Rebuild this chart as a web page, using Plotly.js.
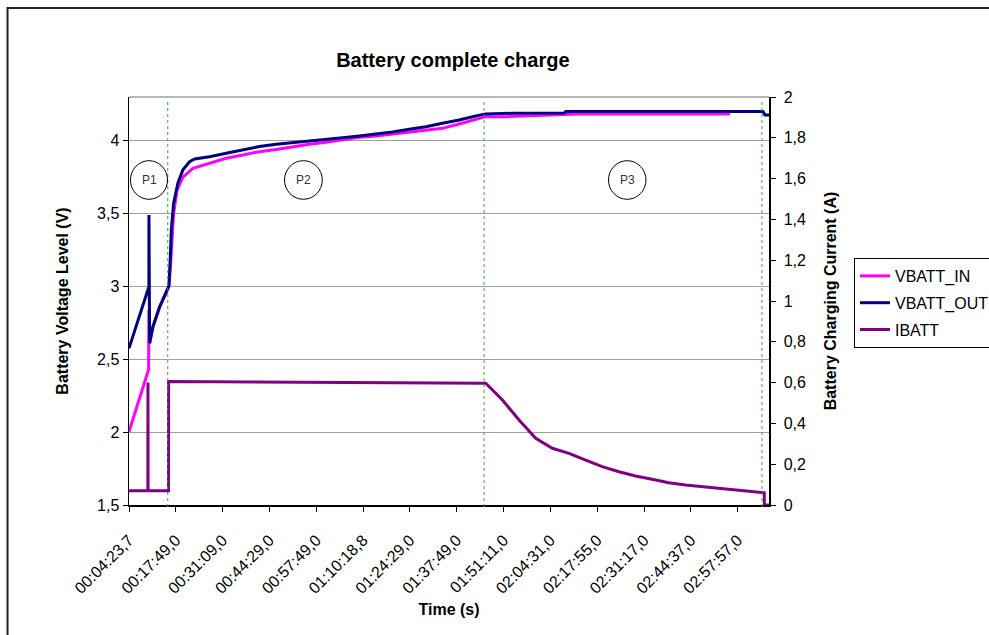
<!DOCTYPE html>
<html>
<head>
<meta charset="utf-8">
<script src="https://cdn.plot.ly/plotly-3.0.1.min.js"></script>
<style>html,body{margin:0;padding:0;background:#fff;}#chart{width:989px;height:635px;}</style>
</head>
<body>
<div id="chart"></div>
<script>
// Elapsed time (s) from first sample; tick labels every ~800 s (category axis in source)
const tickLabels = ["00:04:23,7","00:17:49,0","00:31:09,0","00:44:29,0","00:57:49,0","01:10:18,8","01:24:29,0","01:37:49,0","01:51:11,0","02:04:31,0","02:17:55,0","02:31:17,0","02:44:37,0","02:57:57,0"];
const tickPos = [0,800,1600,2400,3200,4000,4800,5600,6400,7200,8000,8800,9600,10400];

const tIn = [0,324,335,341,352,409,524,665,682,706,740,762,820,921,1092,1377,1661,1945,2229,2514,2797,3082,3367,3650,3935,4220,4503,4788,5073,5356,5641,5926,6096,6438,7120,7689,10268];
const vIn = [2.003,2.427,2.43,2.84,2.61,2.724,2.86,2.987,3.003,3.12,3.35,3.50,3.66,3.75,3.81,3.845,3.88,3.902,3.925,3.94,3.96,3.976,3.99,4.005,4.024,4.033,4.046,4.063,4.074,4.085,4.115,4.147,4.165,4.165,4.177,4.184,4.184];

const tOut = [0,324,340,341,352,409,524,665,682,706,723,762,836,921,1035,1121,1377,1661,1945,2229,2514,2797,3082,3367,3650,3935,4220,4503,4788,5073,5356,5641,5926,6096,6550,7440,7462,10830,10866,10935];
const vOut = [2.575,2.964,2.998,3.49,2.61,2.724,2.86,2.987,3.003,3.2,3.39,3.57,3.71,3.80,3.856,3.875,3.89,3.914,3.937,3.96,3.976,3.987,3.994,4.005,4.02,4.033,4.046,4.06,4.079,4.096,4.12,4.142,4.17,4.184,4.188,4.19,4.2,4.2,4.177,4.177];

const tI = [0,322,324,326,675,676,6096,6380,6664,6949,7233,7518,7803,8086,8371,8655,8938,9223,9508,9791,10076,10360,10780,10854,10855,10935];
const iBatt = [0.07,0.07,0.60,0.07,0.07,0.605,0.597,0.515,0.417,0.327,0.278,0.253,0.22,0.188,0.163,0.142,0.126,0.109,0.098,0.09,0.082,0.0735,0.06,0.06,0,0];

const phaseLines = [662,6067,10815];
const phaseNames = ["P1","P2","P3"];

const FONT = "Liberation Sans, Arial, sans-serif";

const traces = [
  {x:tIn, y:vIn, name:"VBATT_IN", mode:"lines", line:{color:"#ff00ff", width:3}, legendgroup:"a"},
  {x:tOut, y:vOut, name:"VBATT_OUT", mode:"lines", line:{color:"#000080", width:3}, legendgroup:"b"},
  {x:tI, y:iBatt, name:"IBATT", mode:"lines", yaxis:"y2", line:{color:"#800080", width:3}, legendgroup:"c"}
];

const shapes = [];
// plot-area top border
shapes.push({type:"line", xref:"paper", yref:"paper", x0:0, x1:1, y0:1, y1:1, line:{color:"#a0a0a0", width:1.5}});
// phase separators
phaseLines.forEach(p => shapes.push({type:"line", xref:"x", yref:"paper", x0:p, x1:p, y0:-0.005, y1:0.99, line:{color:"#33aa33", width:1, dash:"dot"}}));
// phase circles
const circ = [[0.0023,0.0602],[0.2430,0.3020],[0.7492,0.8078]];
circ.forEach(c => shapes.push({type:"circle", xref:"paper", yref:"paper", x0:c[0], x1:c[1], y0:0.7493, y1:0.8439, line:{color:"#000", width:1}}));
// outer chart border
shapes.push({type:"rect", xref:"paper", yref:"paper", x0:-0.1898, x1:1.36, y0:-0.34, y1:1.2181, line:{color:"#222", width:2}});

const annotations = circ.map((c,i) => ({xref:"paper", yref:"paper", x:(c[0]+c[1])/2, y:0.7966, xanchor:"center", yanchor:"middle", text:phaseNames[i], showarrow:false, font:{family:FONT, size:12, color:"#333"}}));

const layout = {
  width:989, height:635,
  margin:{l:129, r:220, t:97, b:130, autoexpand:false},
  paper_bgcolor:"#fff", plot_bgcolor:"#fff",
  separators:", ",
  font:{family:FONT, size:16, color:"#000"},
  title:{text:"<b>Battery complete charge</b>", font:{family:FONT, size:20, color:"#000"}, x:0.506, xref:"paper", xanchor:"center", y:0.905, yref:"container", yanchor:"middle"},
  xaxis:{
    range:[0,10935], tickmode:"array", tickvals:tickPos, ticktext:tickLabels, tickangle:-45,
    ticks:"outside", ticklen:5, tickcolor:"#000", showgrid:false, zeroline:false,
    showline:true, linecolor:"#000", linewidth:1.5, ticklabelstandoff:13,
    tickfont:{family:FONT, size:16},
    title:{text:"<b>Time (s)</b>", font:{family:FONT, size:16}, standoff:8}
  },
  xaxis2:{
    overlaying:"x", matches:"x", anchor:"y", side:"bottom", tickmode:"array", tickvals:tickPos,
    ticks:"inside", ticklen:5, tickcolor:"#000", showticklabels:false, showgrid:false, zeroline:false, showline:false
  },
  yaxis:{
    range:[1.5,4.3], tick0:1.5, dtick:0.5, ticks:"outside", ticklen:5, tickcolor:"#000",
    showgrid:true, gridcolor:"#a0a0a0", gridwidth:1.2, zeroline:false,
    showline:true, linecolor:"#000", linewidth:1.5,
    tickfont:{family:FONT, size:16},
    title:{text:"<b>Battery Voltage Level (V)</b>", font:{family:FONT, size:16}, standoff:24}
  },
  yaxis2:{
    overlaying:"y", side:"right", range:[0,2], tick0:0, dtick:0.2, ticks:"outside", ticklen:5, tickcolor:"#000",
    showgrid:false, zeroline:false, showline:true, linecolor:"#000", linewidth:1.5, ticklabelstandoff:5,
    tickfont:{family:FONT, size:16},
    title:{text:"<b>Battery Charging Current (A)</b>", font:{family:FONT, size:16}, standoff:20}
  },
  legend:{x:1.1328, xanchor:"left", y:0.6054, yanchor:"top", bordercolor:"#000", borderwidth:1, bgcolor:"#fff",
    font:{family:FONT, size:16}, traceorder:"grouped", tracegroupgap:3},
  shapes:shapes, annotations:annotations, showlegend:true
};

Plotly.newPlot("chart", traces, layout, {displayModeBar:false, staticPlot:true});
</script>
</body>
</html>
